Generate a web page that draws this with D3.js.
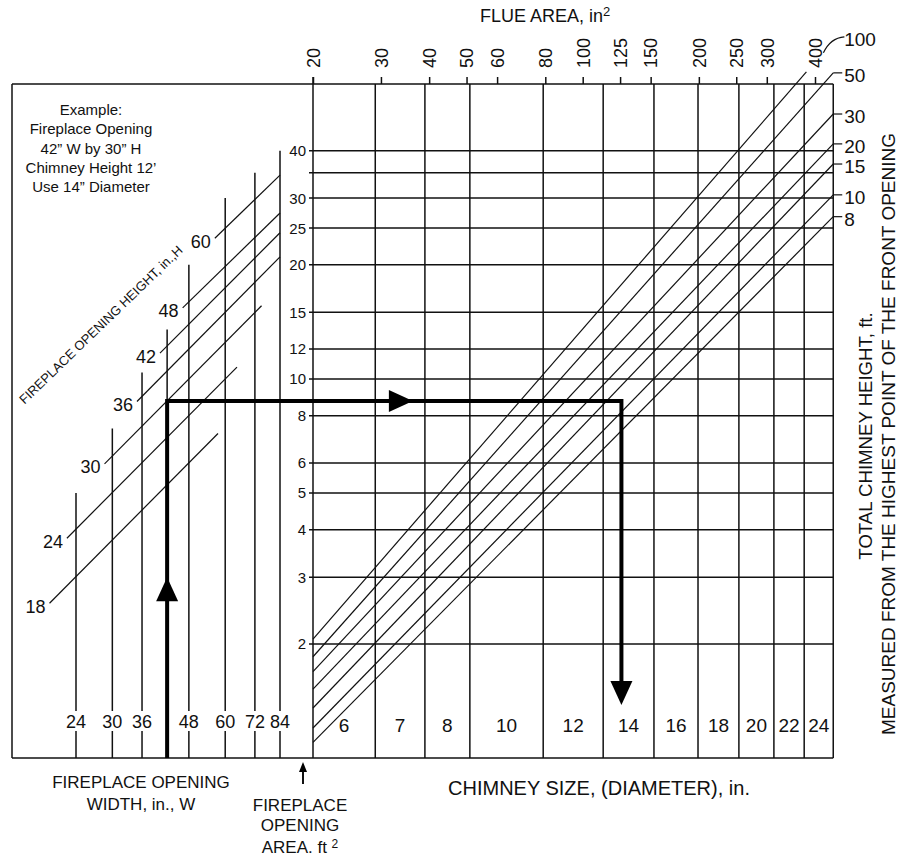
<!DOCTYPE html>
<html>
<head>
<meta charset="utf-8">
<script src="https://cdn.jsdelivr.net/npm/d3@7"></script>
<style>
  body { margin: 0; background: #fff; }
  svg text { font-family: "Liberation Sans", Arial, Helvetica, sans-serif; fill: #111; }
</style>
</head>
<body>
<div id="chart"></div>
<script>
// flue area (in^2) axis on top
const flueTicks = [20, 30, 40, 50, 60, 80, 100, 125, 150, 200, 250, 300, 400];
// chimney diameters and flue area at the right edge of each column
const chimneySizes = [6, 7, 8, 10, 12, 14, 16, 18, 20, 22, 24];
const chimneyFlueEdge = [29, 39, 51, 79, 113, 153, 199, 254, 313, 375, 446];
// fireplace opening area, ft^2
const areaGrid = [2, 3, 4, 5, 6, 8, 10, 12, 15, 20, 25, 30, 35, 40];
const areaLabels = [2, 3, 4, 5, 6, 8, 10, 12, 15, 20, 25, 30, 40];
// opening width lines (in.) and the area where each one stops
const widths = [24, 30, 36, 42, 48, 60, 72, 84];
const widthTopArea = [5.0, 7.4, 10.4, 13.5, 20, 30, 35, 40];
const widthLabels = [24, 30, 36, 48, 60, 72, 84];
// opening height diagonals (in.)
const openHeights = [18, 24, 30, 36, 42, 48, 60];
const openStartW = [20.4, 22.7, 28.6, 34.9, 40.2, 46.2, 56.3];
const openStartArea = [2.56, 3.8, 5.97, 8.72, 11.7, 15.4, 23.5];
const openEndW = [57.4, 64.5, 75, 84, 84, 84, 84];
const openEndArea = [7.18, 10.75, 15.6, 21, 24.3, 27.4, 34.5];
// total chimney height diagonals (ft)
const chimneyHeights = [100, 50, 30, 20, 15, 10, 8];
const chStartArea = [2.06, 1.85, 1.69, 1.52, 1.355, 1.20, 1.10];
const chEndFlue = [380, 446, 446, 446, 446, 446, 446];
const chEndArea = [64.6, 64.2, 50.0, 41.7, 36.9, 30.6, 26.8];
// worked example
const exWidth = 42;
const exArea = 8.75;
const exFlue = 126;
const exUpArrowArea = 3.0;
const exRightArrowFlue = 36.3;
const exDownArrowArea = 1.38;

const width = 907, height = 857;
const fLeft = 12, fTop = 84, fBottom = 758;

const svg = d3.select("#chart").append("svg")
  .attr("width", width).attr("height", height);

const x = d3.scaleLog().domain([20, 400]).range([313, 815]);
const y = d3.scaleLog().domain([1, 60]).range([fBottom, fTop]);
const xw = d3.scaleLog().domain([24, 84]).range([76, 280]);
const x0 = x(20), xR = x(chimneyFlueEdge[chimneyFlueEdge.length - 1]);

const ink = "#111";
function line(x1, y1, x2, y2, w) {
  return svg.append("line").attr("x1", x1).attr("y1", y1).attr("x2", x2).attr("y2", y2)
    .attr("stroke", ink).attr("stroke-width", w || 1.5);
}

// horizontal grid (area)
svg.append("g").selectAll("line").data(areaGrid).enter().append("line")
  .attr("x1", x0 - 4).attr("x2", xR)
  .attr("y1", d => y(d)).attr("y2", d => y(d))
  .attr("stroke", ink).attr("stroke-width", 1.5);

// vertical grid (chimney columns)
svg.append("g").selectAll("line").data(chimneyFlueEdge.slice(0, -1)).enter().append("line")
  .attr("x1", d => x(d)).attr("x2", d => x(d))
  .attr("y1", fTop).attr("y2", fBottom)
  .attr("stroke", ink).attr("stroke-width", 1.5);

// frame
line(fLeft, fTop, xR, fTop);
line(fLeft, fBottom, xR, fBottom);
line(fLeft, fTop, fLeft, fBottom);
line(xR, fTop, xR, fBottom);
line(x0, fTop - 7, x0, fBottom);

// top flue area axis
const topAxis = svg.append("g").attr("transform", `translate(0,${fTop})`)
  .call(d3.axisTop(x).tickValues(flueTicks).tickSize(7).tickFormat(d3.format("d")));
topAxis.select(".domain").remove();
topAxis.selectAll("line").attr("stroke", ink).attr("stroke-width", 1.5);
topAxis.selectAll("text")
  .attr("transform", "rotate(-90)").attr("x", 16).attr("y", 0).attr("dy", "0.35em")
  .style("text-anchor", "start").style("font-size", "18px").attr("font-family", null).attr("fill", ink);

const title = svg.append("text").attr("x", 480).attr("y", 22).style("font-size", "18px");
title.append("tspan").text("FLUE AREA, in");
title.append("tspan").attr("dy", -6).style("font-size", "13px").text("2");

// area axis labels
svg.append("g").selectAll("text").data(areaLabels).enter().append("text")
  .attr("x", x0 - 7).attr("y", d => y(d)).attr("dy", "0.36em")
  .attr("text-anchor", "end").style("font-size", "15px").text(d => d);

// chimney size labels
svg.append("g").selectAll("text").data(chimneySizes).enter().append("text")
  .attr("x", (d, i) => (x(i ? chimneyFlueEdge[i - 1] : 20) + x(chimneyFlueEdge[i])) / 2)
  .attr("y", 732).attr("text-anchor", "middle").style("font-size", "19px").text(d => d);

// chimney height diagonals
const chG = svg.append("g");
chimneyHeights.forEach((h, i) => {
  const ex = x(chEndFlue[i]), ey = y(chEndArea[i]);
  chG.append("line").attr("x1", x0).attr("y1", y(chStartArea[i])).attr("x2", ex).attr("y2", ey)
    .attr("stroke", ink).attr("stroke-width", 1.2);
  let ly = ey;
  if (i === 0) {
    chG.append("path").attr("d", `M${ex + 17},${ey - 19} Q${ex + 24},${ey - 34} ${ex + 38},${ey - 35}`)
      .attr("fill", "none").attr("stroke", ink).attr("stroke-width", 1.2);
    ly = ey - 35;
  } else {
    chG.append("line").attr("x1", xR).attr("y1", ey).attr("x2", xR + 9).attr("y2", ey)
      .attr("stroke", ink).attr("stroke-width", 1.2);
  }
  chG.append("text").attr("x", xR + 11).attr("y", ly + 2).attr("dy", "0.36em")
    .style("font-size", "19px").text(h);
});

// opening width verticals
const wG = svg.append("g");
widths.forEach((w, i) => {
  const xx = xw(w);
  if (widthLabels.includes(w)) {
    wG.append("line").attr("x1", xx).attr("x2", xx).attr("y1", y(widthTopArea[i])).attr("y2", 711)
      .attr("stroke", ink).attr("stroke-width", 1.5);
    wG.append("line").attr("x1", xx).attr("x2", xx).attr("y1", 731).attr("y2", fBottom)
      .attr("stroke", ink).attr("stroke-width", 1.5);
    wG.append("text").attr("x", xx).attr("y", 728).attr("text-anchor", "middle")
      .style("font-size", "18px").text(w);
  } else {
    wG.append("line").attr("x1", xx).attr("x2", xx).attr("y1", y(widthTopArea[i])).attr("y2", fBottom)
      .attr("stroke", ink).attr("stroke-width", 1.5);
  }
});

// opening height diagonals
const hG = svg.append("g");
openHeights.forEach((h, i) => {
  const sx = xw(openStartW[i]), sy = y(openStartArea[i]);
  hG.append("line").attr("x1", sx).attr("y1", sy)
    .attr("x2", xw(openEndW[i])).attr("y2", y(openEndArea[i]))
    .attr("stroke", ink).attr("stroke-width", 1.2);
  hG.append("text").attr("x", sx - 4).attr("y", sy + 3).attr("dy", "0.36em")
    .attr("text-anchor", "end").style("font-size", "18px").text(h);
});

svg.append("text").attr("transform", "translate(104,328) rotate(-44)")
  .attr("text-anchor", "middle").style("font-size", "13px")
  .text("FIREPLACE OPENING HEIGHT, in.,H");

// example note
const note = ["Example:", "Fireplace Opening", "42\u201d W by 30\u201d H", "Chimney Height 12\u2019", "Use 14\u201d Diameter"];
svg.append("g").selectAll("text").data(note).enter().append("text")
  .attr("x", 91).attr("y", (d, i) => 115 + i * 19.3).attr("text-anchor", "middle")
  .style("font-size", "15px").text(d => d);

// example path
const ex1 = xw(exWidth), ey1 = y(exArea), ex2 = x(exFlue);
svg.append("path")
  .attr("d", `M${ex1},${fBottom} V${ey1} H${ex2} V${y(exDownArrowArea) - 18}`)
  .attr("fill", "none").attr("stroke", "#000").attr("stroke-width", 4);
function arrow(tx, ty, dir) {
  const L = 24, hw = 11;
  let pts;
  if (dir === "up") pts = [[tx, ty], [tx - hw, ty + L], [tx + hw, ty + L]];
  if (dir === "down") pts = [[tx, ty], [tx - hw, ty - L], [tx + hw, ty - L]];
  if (dir === "right") pts = [[tx, ty], [tx - L, ty - hw], [tx - L, ty + hw]];
  svg.append("polygon").attr("points", pts.map(p => p.join(",")).join(" ")).attr("fill", "#000");
}
arrow(ex1, y(exUpArrowArea), "up");
arrow(x(exRightArrowFlue), ey1, "right");
arrow(ex2, y(exDownArrowArea), "down");

// small arrow to the area axis
line(303, 784, 303, 768, 2);
svg.append("polygon").attr("points", "303,762 299,772 307,772").attr("fill", "#000");

// bottom titles
const bt = svg.append("g").style("font-size", "17px").attr("text-anchor", "middle");
bt.append("text").attr("x", 141).attr("y", 788).text("FIREPLACE OPENING");
bt.append("text").attr("x", 141).attr("y", 810).text("WIDTH, in., W");
bt.append("text").attr("x", 300).attr("y", 811).text("FIREPLACE");
bt.append("text").attr("x", 300).attr("y", 831).text("OPENING");
const ar = bt.append("text").attr("x", 300).attr("y", 853);
ar.append("tspan").text("AREA. ft ");
ar.append("tspan").attr("dy", -5).style("font-size", "12px").text("2");

svg.append("text").attr("x", 599).attr("y", 795).attr("text-anchor", "middle")
  .style("font-size", "20px").text("CHIMNEY SIZE, (DIAMETER), in.");

// right titles
svg.append("text").attr("transform", "translate(872,436) rotate(-90)").attr("text-anchor", "middle")
  .style("font-size", "18.6px").text("TOTAL CHIMNEY HEIGHT, ft.");
svg.append("text").attr("transform", "translate(895,434) rotate(-90)").attr("text-anchor", "middle")
  .style("font-size", "19px").text("MEASURED FROM THE HIGHEST POINT OF THE FRONT OPENING");
</script>
</body>
</html>
